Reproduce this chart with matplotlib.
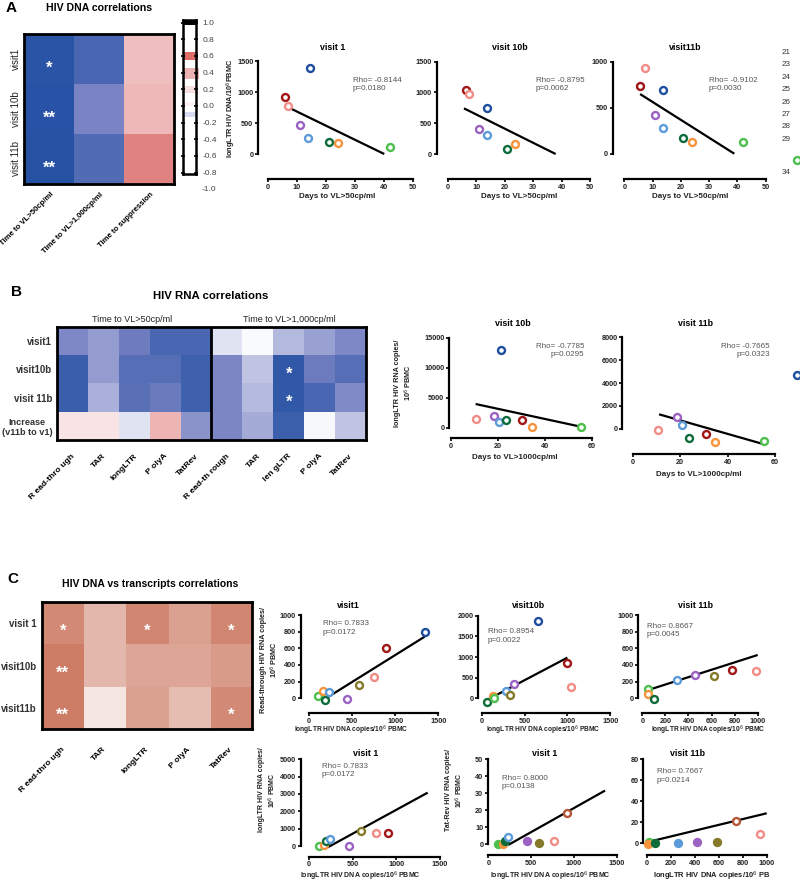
import matplotlib
matplotlib.use("Agg")
import matplotlib.pyplot as plt
import numpy as np
from matplotlib.colors import LinearSegmentedColormap
from matplotlib.patches import Rectangle
from matplotlib.lines import Line2D
from matplotlib.transforms import ScaledTranslation

plt.rcParams['font.family'] = ['Liberation Sans', 'DejaVu Sans']

# ------------------------------------------------------------------ data
PATIENT_COLORS = {'dblue': '#1F4E9E', 'dred': '#A01515', 'pink': '#F28C86',
                  'purple': '#9B62C2', 'lblue': '#5B9BD8', 'dgreen': '#0E6B3A',
                  'orange': '#F7943C', 'lgreen': '#4DBF4D', 'olive': '#857A2A',
                  'brown': '#B5553A'}

# Panel A heatmap
A_rows = ['visit1', 'visit 10b', 'visit 11b']
A_cols = ['Time to VL>50cp/ml', 'Time to VL>1,000cp/ml', 'Time to suppression']
A_vals = [[-0.81, -0.68, 0.27],
          [-0.88, -0.50, 0.30],
          [-0.91, -0.65, 0.55]]
A_stars = [['*', '', ''], ['**', '', ''], ['**', '', '']]
cbar_ticks = [1.0, 0.8, 0.6, 0.4, 0.2, 0.0, -0.2, -0.4, -0.6, -0.8]

# Panel A scatters (days to VL>50 vs longLTR DNA)
A1_c = ['dblue', 'dred', 'pink', 'purple', 'lblue', 'dgreen', 'orange', 'lgreen']
A1_x = [14.5, 5.9, 6.9, 10.9, 13.9, 20.9, 24.0, 42.0]
A1_y = [1390, 924, 774, 463, 253, 194, 177, 118]
A1_fit_x, A1_fit_y = [7.0, 40.1], [753, 0]

A2_c = ['dblue', 'dred', 'pink', 'purple', 'lblue', 'dgreen', 'orange']
A2_x = [13.7, 6.3, 7.5, 10.8, 13.7, 20.8, 23.7]
A2_y = [752, 1040, 970, 400, 309, 81, 162]
A2_fit_x, A2_fit_y = [5.6, 37.9], [742, 0]

A3_c = ['dblue', 'dred', 'pink', 'purple', 'lblue', 'dgreen', 'orange', 'lgreen']
A3_x = [13.7, 5.6, 7.4, 10.7, 13.7, 20.8, 23.8, 41.9]
A3_y = [688, 732, 935, 417, 283, 174, 124, 130]
A3_fit_x, A3_fit_y = [5.6, 38.9], [648, 0]

legend_ids = ['21', '23', '24', '25', '26', '27', '28', '29', '34']

# Panel B heatmap
B_rows = ['visit1', 'visit10b', 'visit 11b', 'Increase\n(v11b to v1)']
B_cols = ['R ead-thro ugh', 'TAR', 'longLTR', 'P olyA', 'TatRev',
          'R ead-th rough', 'TAR', 'len gLTR', 'P olyA', 'TatRev']
B_groups = ['Time to VL>50cp/ml', 'Time to VL>1,000cp/ml']
B_vals = [[-0.48, -0.40, -0.54, -0.68, -0.68, -0.11, -0.02, -0.28, -0.38, -0.48],
          [-0.74, -0.40, -0.64, -0.64, -0.72, -0.49, -0.24, -0.78, -0.55, -0.64],
          [-0.74, -0.32, -0.62, -0.56, -0.72, -0.49, -0.28, -0.77, -0.68, -0.47],
          [0.11, 0.11, -0.11, 0.32, -0.43, -0.49, -0.34, -0.73, -0.03, -0.24]]
B_stars = {(1, 7): '*', (2, 7): '*'}

# Panel B scatters (days to VL>1000 vs longLTR RNA)
B1_c = ['pink', 'purple', 'lblue', 'dblue', 'dgreen', 'dred', 'orange', 'lgreen']
B1_x = [10.6, 18.4, 20.6, 21.4, 23.5, 30.5, 34.5, 55.3]
B1_y = [1450, 1900, 950, 12900, 1330, 1230, 170, 120]
B1_fit_x, B1_fit_y = [10.6, 55.3], [3950, 170]

B2_c = ['pink', 'purple', 'lblue', 'dblue', 'dgreen', 'dred', 'orange', 'lgreen']
B2_x = [10.8, 18.8, 20.8, 69.1, 23.7, 30.9, 34.8, 55.5]
B2_y = [-88, 1024, 297, 4725, -840, -437, -1137, -1050]
B2_fit_x, B2_fit_y = [11.1, 55.5], [1260, -1370]

# Panel C heatmap
C_rows = ['visit 1', 'visit10b', 'visit11b']
C_cols = ['R ead-thro ugh', 'TAR', 'longLTR', 'P olyA', 'TatRev']
C_vals = [[0.76, 0.46, 0.78, 0.61, 0.78],
          [0.84, 0.46, 0.58, 0.58, 0.65],
          [0.84, 0.16, 0.61, 0.43, 0.75]]
C_stars = [['*', '', '*', '', '*'], ['**', '', '', '', ''], ['**', '', '', '', '*']]

# Panel C scatters (longLTR DNA vs transcripts)
C1_c = ['lgreen', 'orange', 'dgreen', 'lblue', 'purple', 'olive', 'pink', 'dred', 'dblue']
C1_x = [104, 162, 182, 232, 444, 580, 754, 897, 1342]
C1_y = [28, 92, -20, 80, -12, 163, 259, 607, 792]
C1_fit_x, C1_fit_y = [166, 1342], [-20, 740]

C2_c = ['dgreen', 'orange', 'lgreen', 'lblue', 'olive', 'purple', 'dblue', 'pink', 'dred']
C2_x = [62, 136, 148, 288, 331, 381, 654, 1039, 1000]
C2_y = [-81, 65, 16, 177, 81, 347, 1879, 266, 847]
C2_fit_x, C2_fit_y = [62, 1000], [-40, 984]

C3_c = ['lgreen', 'orange', 'dgreen', 'lblue', 'purple', 'olive', 'dred', 'pink']
C3_x = [52, 46, 101, 298, 460, 624, 777, 985]
C3_y = [108, 48, -12, 220, 276, 272, 340, 324]
C3_fit_x, C3_fit_y = [52, 1000], [100, 520]

C4_c = ['lgreen', 'orange', 'dgreen', 'lblue', 'purple', 'olive', 'pink', 'dred']
C4_x = [111, 168, 191, 240, 454, 592, 767, 908]
C4_y = [0, 77, 269, 385, 0, 885, 750, 770]
C4_fit_x, C4_fit_y = [214, 1359], [-77, 3077]

C5_c = ['lgreen', 'orange', 'dgreen', 'lblue', 'purple', 'olive', 'pink', 'brown']
C5_x = [112, 171, 190, 236, 453, 593, 767, 915]
C5_y = [0, 0.4, 1.8, 4.5, 2.0, 1.0, 2.2, 18.6]
C5_fill = [True, True, True, False, True, True, False, False]
C5_fit_x, C5_fit_y = [233, 1364], [-0.4, 31.6]

C6_c = ['lgreen', 'orange', 'dgreen', 'lblue', 'purple', 'olive', 'brown', 'pink']
C6_x = [22, 14, 69, 264, 417, 583, 744, 944]
C6_y = [1.6, -0.3, 0.6, 0.6, 1.3, 1.0, 21.6, 8.6]
C6_fill = [False, True, True, True, True, True, False, False]
C6_fit_x, C6_fit_y = [22, 1000], [1.6, 28.6]

# ------------------------------------------------------------------ helpers
W, H = 800, 882
fig = plt.figure(figsize=(W / 100, H / 100), dpi=100)


def box(x0, y0, x1, y1):
    return fig.add_axes([x0 / W, 1 - y1 / H, (x1 - x0) / W, (y1 - y0) / H])


def ftext(x, y, s, **kw):
    fig.text(x / W, 1 - y / H, s, **kw)


cmap_bw = LinearSegmentedColormap.from_list(
    'gp_bwr', [(0, '#2450A4'), (0.1, '#2B55A6'), (0.25, '#7A84C4'),
               (0.5, '#FFFFFF'), (0.75, '#E38A8A'), (1, '#D04545')])
cmap_c = LinearSegmentedColormap.from_list('gp_wr', ['#FFFFFF', '#C4644A'])


def heatmap(rect, vals, cmap, vmin, vmax, rows, cols, col_dx, col_pad, col_fs,
            rot_rows=False):
    ax = box(*rect)
    ax.imshow(np.array(vals), cmap=cmap, vmin=vmin, vmax=vmax, aspect='auto',
              interpolation='nearest')
    for s in ax.spines.values():
        s.set_linewidth(2)
    ax.set_xticks(range(len(cols)))
    ax.set_xticklabels(cols, rotation=45, ha='right', rotation_mode='anchor',
                       fontweight='bold', fontsize=col_fs)
    ax.set_yticks(range(len(rows)))
    if rot_rows:
        ax.set_yticklabels(rows, rotation=90, va='center', ha='center',
                           fontsize=7, color='#222222')
        ax.tick_params(axis='y', pad=6)
    else:
        ax.set_yticklabels(rows, fontsize=7, fontweight='bold', color='#333333',
                           multialignment='center', linespacing=1.15)
    ax.tick_params(length=0)
    ax.tick_params(axis='x', pad=col_pad)
    off = ScaledTranslation(col_dx / 100, 0, fig.dpi_scale_trans)
    for lab in ax.get_xticklabels():
        lab.set_transform(lab.get_transform() + off)
    return ax


def stars(ax, cells):
    for (i, j), s in cells.items():
        ax.text(j, i + 0.18, s, color='white', ha='center', va='center',
                fontsize=12, fontweight='bold')


def scatter(rect, xlim, ylim, xticks, yticks, xs, ys, cols, fit_x, fit_y, fills=None):
    ax = box(*rect)
    ax.set_xlim(xlim)
    ax.set_ylim(ylim)
    ax.spines['top'].set_visible(False)
    ax.spines['right'].set_visible(False)
    ax.spines['left'].set_bounds(yticks[0], yticks[-1])
    ax.spines['bottom'].set_bounds(xticks[0], xticks[-1])
    ax.spines['left'].set_linewidth(1.6)
    ax.spines['bottom'].set_linewidth(1.6)
    ax.set_xticks(xticks)
    ax.set_yticks(yticks)
    ax.tick_params(labelsize=5.2, length=2.2, width=1.2, pad=1.2)
    for lab in ax.get_xticklabels() + ax.get_yticklabels():
        lab.set_fontweight('bold')
        lab.set_color('#222222')
    ax.plot(fit_x, fit_y, color='black', lw=1.6, solid_capstyle='butt')
    if fills is None:
        fills = [False] * len(xs)
    for x, y, c, f in zip(xs, ys, cols, fills):
        col = PATIENT_COLORS[c]
        ax.plot(x, y, 'o', ms=5, mfc=col if f else 'white', mec=col, mew=1.7,
                clip_on=False, zorder=3)
    ax.patch.set_alpha(0)
    return ax


rho_kw = dict(fontsize=5.8, color='#555555', va='top', linespacing=1.3)
ttl_kw = dict(fontsize=6.4, fontweight='bold', ha='center', va='center')
xl_kw = dict(fontsize=5.8, fontweight='bold', ha='center', va='center', color='#222222')


def yl_kw(fs):
    return dict(fontsize=fs, fontweight='bold', ha='center', va='center', rotation=90,
                color='#222222', multialignment='center', linespacing=1.3)


# ------------------------------------------------------------------ Panel A
ftext(11, 8, 'A', fontsize=11, fontweight='bold', ha='center', va='center')
ftext(99, 8, 'HIV DNA correlations', fontsize=7.6, fontweight='bold', ha='center', va='center')

axA = heatmap((24, 34, 174, 184), A_vals, cmap_bw, -1, 1, A_rows, A_cols,
              col_dx=1, col_pad=5, col_fs=5.6, rot_rows=True)
stars(axA, {(i, j): A_stars[i][j] for i in range(3) for j in range(3) if A_stars[i][j]})

# colour bar
cax = box(182.5, 20, 196, 174)
cax.set_xlim(0, 1)
cax.set_ylim(-0.816, 1.032)
cax.set_xticks([])
cax.set_yticks(cbar_ticks)
cax.set_yticklabels(['%.1f' % t for t in cbar_ticks], fontsize=6, color='#444444')
cax.tick_params(axis='y', left=True, right=True, labelleft=False, labelright=True,
                direction='inout', length=3, width=1.2, pad=3)
for s in cax.spines.values():
    s.set_linewidth(1.8)
band_specs = [(0.55, 0.65, '#D9534F', 0.85, 1.15), (0.33, 0.46, '#E9A0A0', 0.8, 1.2),
              (0.16, 0.24, '#F6D8D8', 0.8, 1.0), (0.0, 0.05, '#FBEAEA', 0.7, 1.0),
              (-0.13, -0.07, '#C8CCEC', 0.7, 1.0), (0.97, 1.032, '#000000', 1.0, 1.0)]
for lo, hi, col, a, wid in band_specs:
    cax.add_patch(Rectangle((0, lo), wid, hi - lo, color=col, alpha=a, lw=0, clip_on=False))
cax.text(1.0 + 0.42, -1.0, '-1.0', transform=cax.transData, fontsize=6, color='#444444',
         va='center', ha='left')

a1 = scatter((258, 61, 413, 179), (-3.4, 50), (-403, 1500), [0, 10, 20, 30, 40, 50],
             [0, 500, 1000, 1500], A1_x, A1_y, A1_c, A1_fit_x, A1_fit_y)
a2 = scatter((436.7, 61.7, 590, 179), (-4.0, 50), (-406, 1500), [0, 10, 20, 30, 40, 50],
             [0, 500, 1000, 1500], A2_x, A2_y, A2_c, A2_fit_x, A2_fit_y)
a3 = scatter((612.7, 61.7, 765.7, 179), (-4.1, 50), (-275, 1000), [0, 10, 20, 30, 40, 50],
             [0, 500, 1000], A3_x, A3_y, A3_c, A3_fit_x, A3_fit_y)
ftext(333, 48, 'visit 1', **ttl_kw)
ftext(510, 48, 'visit 10b', **ttl_kw)
ftext(685, 48, 'visit11b', **ttl_kw)
for x in (337, 519, 690):
    ftext(x, 197, 'Days to VL>50cp/ml', **xl_kw)
ftext(231, 108, 'longLTR HIV DNA/10$^6$PBMC', **yl_kw(5.3))
ftext(353, 77, 'Rho= -0.8144\np=0.0180', **rho_kw)
ftext(536, 77, 'Rho= -0.8795\np=0.0062', **rho_kw)
ftext(709, 77, 'Rho= -0.9102\np=0.0030', **rho_kw)

for lid, yy in zip(legend_ids, [52.7, 65, 77.3, 89.3, 102, 114.3, 126.7, 139.3, 172.7]):
    ftext(786, yy, lid, fontsize=5.8, color='#333333', ha='center', va='center')
fig.add_artist(Line2D([797 / W], [1 - 160 / H], marker='o', ms=5, mfc='white',
                      mec=PATIENT_COLORS['lgreen'], mew=1.7, transform=fig.transFigure))

# ------------------------------------------------------------------ Panel B
ftext(17, 292, 'B', fontsize=11, fontweight='bold', ha='center', va='center')
ftext(211, 296, 'HIV RNA correlations', fontsize=8.2, fontweight='bold', ha='center', va='center')
ftext(132, 320, B_groups[0], fontsize=6.5, ha='center', va='center', color='#222222')
ftext(289, 320, B_groups[1], fontsize=6.5, ha='center', va='center', color='#222222')

axB = heatmap((57, 327, 366, 440), B_vals, cmap_bw, -1, 1, B_rows, B_cols,
              col_dx=-1, col_pad=9, col_fs=6.1)
axB.axvline(4.5, color='black', lw=2)
stars(axB, B_stars)
for lab in axB.get_yticklabels()[-1:]:
    lab.set_fontsize(6.6)

b1 = scatter((449, 337.7, 591.7, 438.3), (-0.72, 60), (-1767, 15000), [0, 20, 40, 60],
             [0, 5000, 10000, 15000], B1_x, B1_y, B1_c, B1_fit_x, B1_fit_y)
b2 = scatter((622.3, 337.3, 775, 454), (-4.4, 60), (-2213, 8000), [0, 20, 40, 60],
             [0, 2000, 4000, 6000, 8000], B2_x, B2_y, B2_c, B2_fit_x, B2_fit_y)
ftext(513, 323, 'visit 10b', **ttl_kw)
ftext(696, 323, 'visit 11b', **ttl_kw)
ftext(515, 458, 'Days to VL>1000cp/ml', **xl_kw)
ftext(699, 474, 'Days to VL>1000cp/ml', **xl_kw)
ftext(404, 383, 'longLTR HIV RNA copies/\n10$^6$ PBMC', **yl_kw(5.2))
ftext(584, 343, 'Rho= -0.7785\np=0.0295', ha='right', multialignment='right', **rho_kw)
ftext(770, 343, 'Rho= -0.7665\np=0.0323', ha='right', multialignment='right', **rho_kw)

# ------------------------------------------------------------------ Panel C
ftext(13, 579, 'C', fontsize=11, fontweight='bold', ha='center', va='center')
ftext(150, 584, 'HIV DNA vs transcripts correlations', fontsize=7.5, fontweight='bold',
      ha='center', va='center')

axC = heatmap((41.7, 602.3, 251.7, 729.3), C_vals, cmap_c, 0, 1, C_rows, C_cols,
              col_dx=-2, col_pad=12, col_fs=6.1)
stars(axC, {(i, j): C_stars[i][j] for i in range(3) for j in range(5) if C_stars[i][j]})

c1 = scatter((300.7, 615, 438.3, 713.3), (-96, 1500), (-180, 1000), [0, 500, 1000, 1500],
             [0, 200, 400, 600, 800, 1000], C1_x, C1_y, C1_c, C1_fit_x, C1_fit_y)
c2 = scatter((478.3, 615.7, 610.2, 713.3), (-40, 1500), (-363, 2000), [0, 500, 1000, 1500],
             [0, 500, 1000, 1500, 2000], C2_x, C2_y, C2_c, C2_fit_x, C2_fit_y)
c3 = scatter((638.3, 615, 757.7, 713.3), (-35, 1000), (-180, 1000),
             [0, 200, 400, 600, 800, 1000], [0, 200, 400, 600, 800, 1000],
             C3_x, C3_y, C3_c, C3_fit_x, C3_fit_y)
ftext(348, 605, 'visit1', **ttl_kw)
ftext(529, 605, 'visit10b', **ttl_kw)
ftext(695, 605, 'visit 11b', **ttl_kw)
xl_small = dict(xl_kw, fontsize=4.8)
ftext(351, 730, 'longLTR HIV DNA copies/10$^6$ PBMC', **xl_small)
ftext(543, 730, 'longLTR HIV DNA copies/10$^6$ PBMC', **xl_small)
ftext(708, 730, 'longLTR HIV DNA copies/10$^6$ PBMC', **xl_small)
ftext(270, 660, 'Read-through HIV RNA copies/\n10$^6$ PBMC', **yl_kw(5.2))
ftext(323, 620, 'Rho= 0.7833\np=0.0172', **rho_kw)
ftext(488, 628, 'Rho= 0.8954\np=0.0022', **rho_kw)
ftext(647, 623, 'Rho= 0.8667\np=0.0045', **rho_kw)

c4 = scatter((300.7, 759.3, 440, 856.7), (-95, 1500), (-617, 5000), [0, 500, 1000, 1500],
             [0, 1000, 2000, 3000, 4000, 5000], C4_x, C4_y, C4_c, C4_fit_x, C4_fit_y)
c5 = scatter((488, 759.3, 616.7, 855), (-3, 1500), (-6.3, 50), [0, 500, 1000, 1500],
             [0, 10, 20, 30, 40, 50], C5_x, C5_y, C5_c, C5_fit_x, C5_fit_y, fills=C5_fill)
c6 = scatter((643.3, 759.3, 766.7, 855), (-28, 1000), (-11.1, 80),
             [0, 200, 400, 600, 800, 1000], [0, 20, 40, 60, 80],
             C6_x, C6_y, C6_c, C6_fit_x, C6_fit_y, fills=C6_fill)
ftext(366, 754, 'visit 1', **ttl_kw)
ftext(545, 754, 'visit 1', **ttl_kw)
ftext(687, 754, 'visit 11b', **ttl_kw)
xl_bot = dict(xl_kw, fontsize=5.0)
ftext(360, 876, 'longLTR HIV DNA copies/10$^6$ PBMC', **xl_bot)
ftext(550, 876, 'longLTR HIV DNA copies/10$^6$ PBMC', **xl_bot)
ftext(712, 876, 'longLTR HIV DNA copies/10$^6$ PB', **dict(xl_kw, fontsize=5.4))
ftext(268, 790, 'longLTR HIV RNA copies/\n10$^6$ PBMC', **yl_kw(5.0))
ftext(455, 790, 'Tat-Rev HIV RNA copies/\n10$^6$ PBMC', **yl_kw(5.0))
ftext(322, 763, 'Rho= 0.7833\np=0.0172', **rho_kw)
ftext(502, 775, 'Rho= 0.8000\np=0.0138', **rho_kw)
ftext(657, 768, 'Rho= 0.7667\np=0.0214', **rho_kw)

fig.savefig('out.png', dpi=100, facecolor='white')
